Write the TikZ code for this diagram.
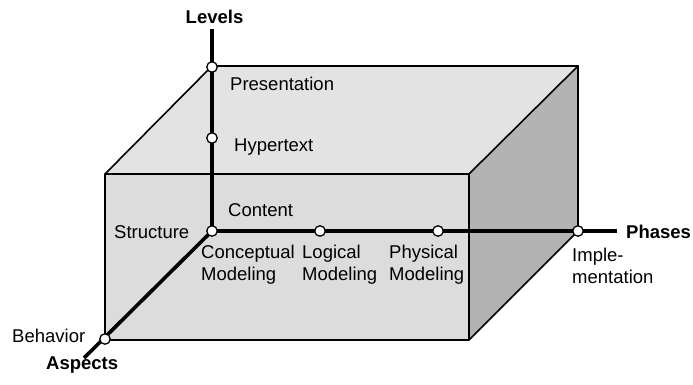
\documentclass[tikz,border=0pt]{standalone}
\usepackage{fontspec}
\setmainfont{Liberation Sans}
\begin{document}
\begin{tikzpicture}[x=1pt,y=-1pt,
  font=\fontsize{18.5}{22}\selectfont,
  edge/.style={line width=1.6pt,line join=miter},
  axis/.style={line width=3.6pt},
  pt/.style={circle,draw,fill=white,line width=1.3pt,minimum size=10.5pt,inner sep=0pt},
  lbl/.style={inner sep=0pt,anchor=base west,align=left},
  axlbl/.style={inner sep=0pt,font=\fontsize{18.5}{22}\selectfont\bfseries}]
\definecolor{topc}{HTML}{E3E3E3}
\definecolor{frontc}{HTML}{DCDCDC}
\definecolor{rightc}{HTML}{B3B3B3}
\useasboundingbox (0,0) rectangle (693,385);
% box corners
\coordinate (btl) at (212,66);
\coordinate (btr) at (578,66);
\coordinate (bbr) at (578,231);
\coordinate (ftl) at (105,174);
\coordinate (ftr) at (469,174);
\coordinate (fbr) at (469,340);
\coordinate (fbl) at (105,340);
% faces
\fill[topc] (btl) -- (btr) -- (ftr) -- (ftl) -- cycle;
\fill[rightc] (ftr) -- (btr) -- (bbr) -- (fbr) -- cycle;
\fill[frontc] (ftl) rectangle (fbr);
\draw[edge] (btl) -- (btr) -- (bbr) -- (fbr) -- (fbl) -- (ftl) -- cycle;
\draw[edge] (ftl) -- (ftr) -- (fbr);
\draw[edge] (ftr) -- (btr);
% axes
\coordinate (origin) at (212,231);
\coordinate (lvend) at (212,29);
\coordinate (phend) at (617,231);
\coordinate (asend) at (84,358);
\draw[axis] (lvend) -- (origin) -- (phend);
\draw[axis] (origin) -- (asend);
% points
\node[pt] (pres) at (212,67) {};
\node[pt] (hyp) at (212,138) {};
\node[pt] (o) at (origin) {};
\node[pt] (log) at (320,231) {};
\node[pt] (phy) at (438,231) {};
\node[pt] (imp) at (578,231) {};
\node[pt] (beh) at (105,339) {};
% labels
\node[axlbl,anchor=base] (levels) at (214.5,24) {Levels};
\node[axlbl,anchor=base west] (phases) at (626,238) {Phases};
\node[axlbl,anchor=base west] (aspects) at (46,369) {Aspects};
\node[lbl] (tpres) at (230,90.5) {Presentation};
\node[lbl] (thyp) at (234,151) {Hypertext};
\node[lbl] (tcont) at (228,216) {Content};
\node[lbl] (tstruct) at (114,238) {Structure};
\node[lbl] (tconc) at (201,280) {Conceptual\\Modeling};
\node[lbl] (tlog) at (302,280) {Logical\\Modeling};
\node[lbl] (tphy) at (389,280) {Physical\\Modeling};
\node[lbl] (timp) at (572,283) {Imple-\\mentation};
\node[lbl] (tbeh) at (12,342) {Behavior};
\end{tikzpicture}
\end{document}
